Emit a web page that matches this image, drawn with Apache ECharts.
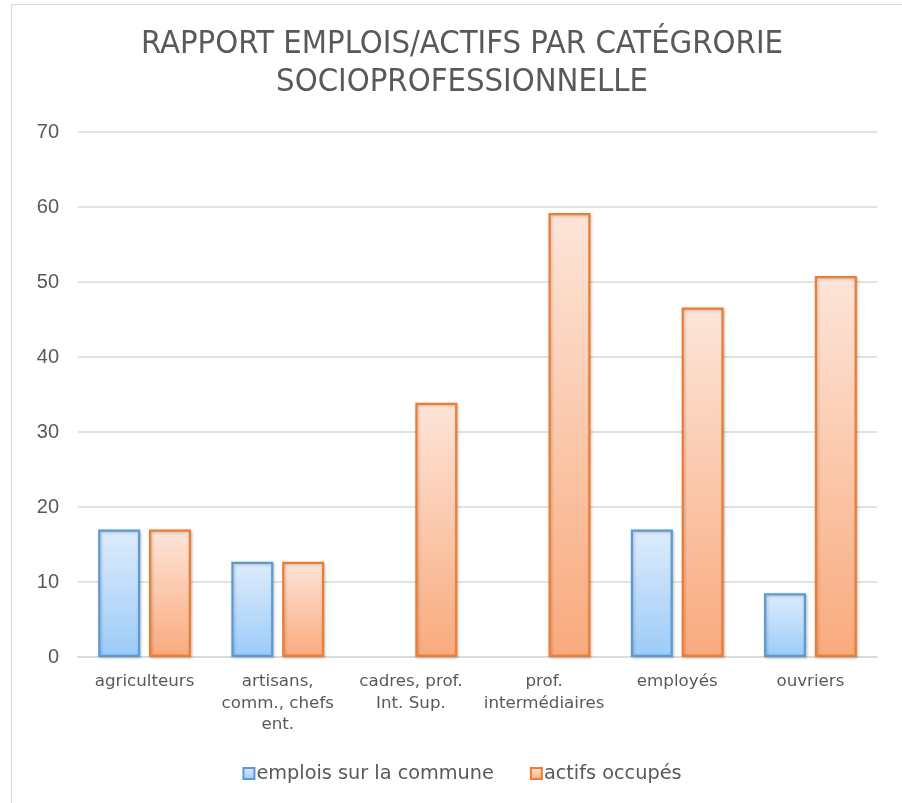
<!DOCTYPE html>
<html>
<head>
<meta charset="utf-8">
<script src="https://cdn.jsdelivr.net/npm/echarts@6/dist/echarts.min.js"></script>
<style>
html,body{margin:0;padding:0;background:#fff;overflow:hidden;width:902px;height:803px;}
#frame{position:absolute;left:11px;top:4px;width:902px;height:830px;border:1px solid #d9d9d9;box-sizing:border-box;}
#chart{width:900px;height:828px;}
</style>
</head>
<body>
<div id="frame"><div id="chart"></div></div>
<script>
const titleText = 'RAPPORT EMPLOIS/ACTIFS PAR CATÉGRORIE\nSOCIOPROFESSIONNELLE';
const categories = ['agriculteurs', 'artisans,\ncomm., chefs\nent.', 'cadres, prof.\nInt. Sup.', 'prof.\nintermédiaires', 'employés', 'ouvriers'];
const seriesNames = ['emplois sur la commune', 'actifs occupés'];
const emploisCommune = [17, 12.7, 0, 0, 17, 8.5];
const actifsOccupes = [17, 12.7, 33.9, 59.2, 46.6, 50.8];
const yTicks = [0, 10, 20, 30, 40, 50, 60, 70];

const textColor = '#595959';
const fontLabel = '"DejaVu Sans", Verdana, sans-serif';
const fontNum = '"Liberation Sans", Arial, sans-serif';
const fontTitle = '"Liberation Sans Narrow", "DejaVu Sans Condensed", "Liberation Sans", sans-serif';

function gradient(top, bottom) {
  return new echarts.graphic.LinearGradient(0, 0, 0, 1, [
    {offset: 0, color: top}, {offset: 1, color: bottom}]);
}
const blueStyle = {color: gradient('#deecfc', '#9ccbf9'), borderColor: '#5b9bd5', borderWidth: 2.2,
  shadowBlur: 3, shadowColor: 'rgba(0,0,0,0.22)', shadowOffsetX: 1, shadowOffsetY: 1};
const orangeStyle = {color: gradient('#fde5d9', '#f9aa7d'), borderColor: '#ed7d31', borderWidth: 2.2,
  shadowBlur: 3, shadowColor: 'rgba(0,0,0,0.22)', shadowOffsetX: 1, shadowOffsetY: 1};

// zero values: keep the value but draw no outline (as in the reference, no visible bar)
function toData(values) {
  return values.map(v => v === 0 ? {value: v, itemStyle: {borderWidth: 0, shadowBlur: 0, shadowOffsetX: 0, shadowOffsetY: 0, opacity: 0}} : v);
}

const chart = echarts.init(document.getElementById('chart'), null, {renderer: 'canvas'});
chart.setOption({
  animation: false,
  backgroundColor: '#ffffff',
  title: {
    text: titleText,
    left: 'center',
    top: 16,
    textStyle: {color: textColor, fontFamily: fontTitle, fontSize: 32.5, fontWeight: 'normal', lineHeight: 37.6}
  },
  legend: {
    top: 754,
    left: 'center',
    itemWidth: 11,
    itemHeight: 11,
    itemGap: 36,
    icon: 'rect',
    textStyle: {color: textColor, fontFamily: fontLabel, fontSize: 19.3, padding: [0, 0, 0, -3]},
    data: seriesNames
  },
  grid: {left: 66, right: 35, top: 127, bottom: 176, containLabel: false},
  xAxis: {
    type: 'category',
    data: categories,
    axisLine: {lineStyle: {color: '#d9d9d9', width: 1.5}},
    axisTick: {show: false},
    axisLabel: {color: textColor, fontFamily: fontLabel, fontSize: 16.7, lineHeight: 21.5, margin: 14, interval: 0}
  },
  yAxis: {
    type: 'value',
    min: yTicks[0],
    max: yTicks[yTicks.length - 1],
    interval: 10,
    axisLine: {show: false},
    axisTick: {show: false},
    splitLine: {lineStyle: {color: '#d9d9d9', width: 1.5}},
    axisLabel: {color: textColor, fontFamily: fontNum, fontSize: 20, margin: 19}
  },
  series: [
    {
      name: seriesNames[0],
      type: 'bar',
      data: toData(emploisCommune),
      barWidth: 42,
      barGap: '21%',
      itemStyle: blueStyle
    },
    {
      name: seriesNames[1],
      type: 'bar',
      data: toData(actifsOccupes),
      barWidth: 42,
      barGap: '21%',
      itemStyle: orangeStyle
    }
  ]
});
</script>
</body>
</html>
